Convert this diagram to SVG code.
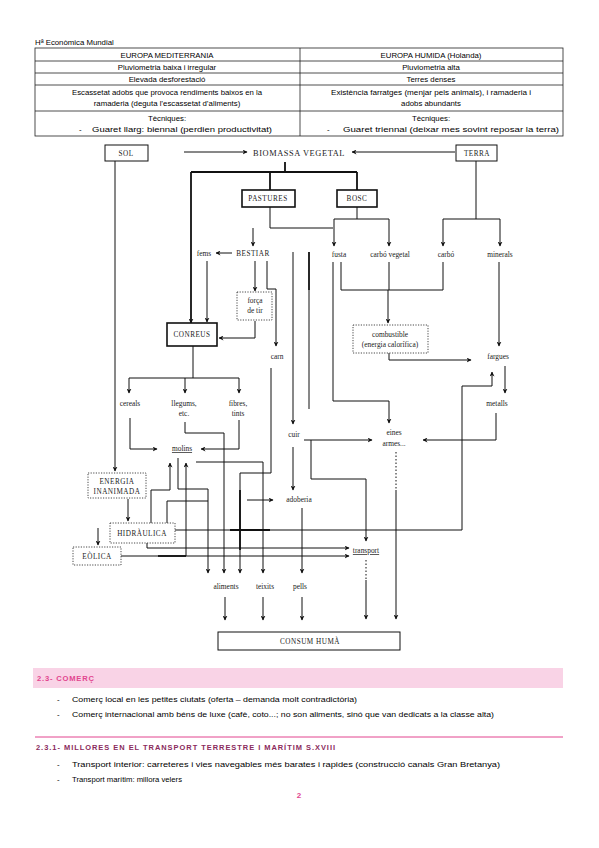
<svg xmlns="http://www.w3.org/2000/svg" width="599" height="848" viewBox="0 0 599 848">
<defs>
<marker id="ah" viewBox="0 0 10 10" refX="9" refY="5" markerWidth="5" markerHeight="5" orient="auto-start-reverse" markerUnits="userSpaceOnUse">
<path d="M0 0 L10 5 L0 10 L3 5 Z" fill="#111"/>
</marker>
</defs>
<style>
.t{font-family:"Liberation Sans",Arial,sans-serif;font-size:7.8px;fill:#000}
.tc{font-family:"Liberation Sans",Arial,sans-serif;font-size:7.8px;fill:#000;text-anchor:middle}
.d{font-family:"Liberation Serif","Times New Roman",serif;font-size:7.4px;fill:#222;text-anchor:middle}
.du{font-family:"Liberation Serif","Times New Roman",serif;font-size:7.2px;fill:#222;text-anchor:middle;letter-spacing:0.5px}
.tl{stroke:#222;stroke-width:0.8;fill:none}
.c path{stroke:#111;stroke-width:1;fill:none}
.c .a{marker-end:url(#ah)}
.c .k{stroke-width:1.8}
.bx{fill:#fff;stroke:#111;stroke-width:1.6}
.bs{fill:#fff;stroke:#111;stroke-width:1}
.dot{fill:#fff;stroke:#333;stroke-width:0.9;stroke-dasharray:1.2 1.4}
.pk{font-family:"Liberation Sans",Arial,sans-serif;font-size:7.6px;font-weight:bold;fill:#e2458f;letter-spacing:0.8px}
.pk2{font-family:"Liberation Sans",Arial,sans-serif;font-size:7.6px;font-weight:bold;fill:#8a2a5c;letter-spacing:1px}
</style>
<rect width="599" height="848" fill="#fff"/>
<g id="header">
<text class="t" x="35" y="45">Hª Econòmica Mundial</text>
<rect class="tl" x="35" y="48" width="528" height="88"/>
<path class="tl" d="M35 61H563M35 73H563M35 85H563M35 111H563M300 48V136"/>
<text class="tc" x="167" y="58">EUROPA MEDITERRANIA</text>
<text class="tc" x="431" y="58">EUROPA HUMIDA (Holanda)</text>
<text class="tc" x="167" y="70">Pluviometria baixa i irregular</text>
<text class="tc" x="431" y="70">Pluviometria alta</text>
<text class="tc" x="167" y="82">Elevada desforestació</text>
<text class="tc" x="431" y="82">Terres denses</text>
<text class="tc" x="167" y="95" textLength="190" lengthAdjust="spacingAndGlyphs">Escassetat adobs que provoca rendiments baixos en la</text>
<text class="tc" x="167" y="106">ramaderia (deguta l’escassetat d’aliments)</text>
<text class="tc" x="431" y="95" textLength="200" lengthAdjust="spacingAndGlyphs">Existència farratges (menjar pels animals), i ramaderia i</text>
<text class="tc" x="431" y="106">adobs abundants</text>
<text class="tc" x="167" y="121">Tècniques:</text>
<text class="tc" x="431" y="121">Tècniques:</text>
<text class="t" x="79" y="132">-</text>
<text class="t" x="92" y="132" textLength="180" lengthAdjust="spacingAndGlyphs">Guaret llarg: biennal (perdien productivitat)</text>
<text class="t" x="327" y="132">-</text>
<text class="t" x="343" y="132" textLength="216" lengthAdjust="spacingAndGlyphs">Guaret triennal (deixar mes sovint reposar la terra)</text>
</g>
<g id="connectors" class="c">
<path class="a" d="M184 152H247"/>
<path class="a" d="M455 152H352"/>
<path class="k" d="M285 162V172M191 172H357M270 172V190M357 172V190"/>
<path class="a k" d="M191 172V323"/>
<path d="M270 207V228H333"/>
<path class="a" d="M253 228V246"/>
<path d="M357 207V219M334 219H389"/>
<path class="a" d="M334 219V246"/>
<path class="a" d="M389 219V246"/>
<path d="M476 160V219M443 219H500"/>
<path class="a" d="M443 219V246"/>
<path class="a" d="M500 219V246"/>
<path class="a" d="M232 253H216"/>
<path class="a" d="M207 261V322"/>
<path class="a" d="M255 261V291"/>
<path class="a" d="M255 321V338H219"/>
<path class="a" d="M267 261V289H276V346"/>
<path class="a" d="M293 252V424"/>
<path class="k" d="M309 252V290"/>
<path d="M309 290V409"/>
<path class="a" d="M333 262V401H389V423"/>
<path d="M341 262V290H443M389 262V290M443 262V290"/>
<path class="a" d="M388 290V323"/>
<path class="a" d="M389 353V360H471"/>
<path class="a" d="M499 262V346"/>
<path class="a" d="M505 366V393"/>
<path class="a" d="M175 530H462V386H492V372"/>
<path class="k" d="M230 530H270"/>
<path class="a" d="M496 413V440H423"/>
<path d="M193 346V378M129 378H239"/>
<path class="a" d="M129 378V393"/>
<path class="a" d="M185 378V393"/>
<path class="a" d="M239 378V393"/>
<path class="a" d="M130 418V449H157"/>
<path class="a" d="M239 420V449H201"/>
<path class="a" d="M185 422V433H224V573"/>
<path class="a" d="M271 368V473H240V573"/>
<path class="k" d="M240 490V550"/>
<path class="a" d="M178 458V489H208V573"/>
<path class="a" d="M196 462H263V573"/>
<path class="a" d="M304 440H372"/>
<path class="a" d="M311 440V479H366V541"/>
<path class="a" d="M293 447V490"/>
<path class="a" d="M247 500H273"/>
<path class="a" d="M302 508V573"/>
<path class="a" d="M115 161V471"/>
<path class="a" d="M128 499V521"/>
<path class="a" d="M98 528V545"/>
<path class="a" d="M151 523V490H170V463"/>
<path class="a" d="M121 556H186V463"/>
<path class="k" d="M158 556H186"/>
<path class="a" d="M186 556H349"/>
<path class="a" d="M147 543V548H349"/>
<path d="M167 523V501H208"/>
<path stroke-dasharray="1.5 2" d="M396 452V490"/>
<path class="a" d="M396 490V619"/>
<path stroke-dasharray="1.5 2" d="M366 560V580"/>
<path class="a" d="M366 580V619"/>
<path class="a" d="M225 597V620"/>
<path class="a" d="M263 597V620"/>
<path class="a" d="M302 597V620"/>
</g>
<g id="sol"><rect class="bs" x="105" y="145" width="43" height="16"/><text class="du" x="126" y="156">SOL</text></g>
<g id="biomassa"><text class="du" x="299" y="156" textLength="92" lengthAdjust="spacingAndGlyphs">BIOMASSA VEGETAL</text></g>
<g id="terra"><rect class="bs" x="456" y="145" width="41" height="16"/><text class="du" x="477" y="156">TERRA</text></g>
<g id="pastures"><rect class="bx" x="242" y="190" width="53" height="17"/><text class="du" x="268" y="201">PASTURES</text></g>
<g id="bosc"><rect class="bx" x="337" y="190" width="40" height="17"/><text class="du" x="357" y="201">BOSC</text></g>
<g id="fems"><text class="d" x="204" y="256">fems</text></g>
<g id="bestiar"><text class="du" x="253" y="256">BESTIAR</text></g>
<g id="fusta"><text class="d" x="339" y="257">fusta</text></g>
<g id="carbo-vegetal"><text class="d" x="390" y="257">carbó vegetal</text></g>
<g id="carbo"><text class="d" x="446" y="257">carbó</text></g>
<g id="minerals"><text class="d" x="500" y="257">minerals</text></g>
<g id="forca"><rect class="dot" x="237" y="292" width="35" height="28"/><text class="d" x="255" y="303">força</text><text class="d" x="255" y="313">de tir</text></g>
<g id="conreus"><rect class="bx" x="167" y="323" width="50" height="23"/><text class="du" x="192" y="337">CONREUS</text></g>
<g id="carn"><text class="d" x="277" y="359">carn</text></g>
<g id="combustible"><rect class="dot" x="353" y="325" width="75" height="28"/><text class="d" x="390" y="337">combustible</text><text class="d" x="390" y="347">(energia calorífica)</text></g>
<g id="fargues"><text class="d" x="498" y="359">fargues</text></g>
<g id="metalls"><text class="d" x="497" y="406">metalls</text></g>
<g id="cereals"><text class="d" x="130" y="406">cereals</text></g>
<g id="llegums"><text class="d" x="184" y="406">llegums,</text><text class="d" x="184" y="416">etc.</text></g>
<g id="fibres"><text class="d" x="238" y="406">fibres,</text><text class="d" x="238" y="416">tints</text></g>
<g id="cuir"><text class="d" x="294" y="437">cuir</text></g>
<g id="eines"><text class="d" x="394" y="435">eines</text><text class="d" x="394" y="446">armes...</text></g>
<g id="molins"><text class="d" x="182" y="451" text-decoration="underline">molins</text></g>
<g id="energia"><rect class="dot" x="88" y="473" width="58" height="25"/><text class="du" x="117" y="484">ENERGIA</text><text class="du" x="117" y="494">INANIMADA</text></g>
<g id="adoberia"><text class="d" x="299" y="502">adoberia</text></g>
<g id="hidraulica"><rect class="dot" x="110" y="523" width="65" height="20"/><text class="du" x="142" y="536">HIDRÀULICA</text></g>
<g id="eolica"><rect class="dot" x="73" y="547" width="48" height="18"/><text class="du" x="97" y="559">EÒLICA</text></g>
<g id="transport"><text class="d" x="366" y="553" text-decoration="underline">transport</text></g>
<g id="aliments"><text class="d" x="226" y="589">aliments</text></g>
<g id="teixits"><text class="d" x="265" y="589">teixits</text></g>
<g id="pells"><text class="d" x="300" y="589">pells</text></g>
<g id="consum"><rect class="bs" x="218" y="632" width="182" height="18"/><text class="du" x="310" y="644">CONSUM HUMÀ</text></g>
<g id="text-bottom">
<rect x="33" y="668" width="530" height="20" fill="#f9d3e6"/>
<text class="pk" x="37" y="681">2.3- COMERÇ</text>
<text class="t" x="57" y="702">-</text>
<text class="t" x="72" y="702" textLength="285" lengthAdjust="spacingAndGlyphs">Comerç local en les petites ciutats (oferta – demanda molt contradictòria)</text>
<text class="t" x="57" y="717">-</text>
<text class="t" x="72" y="717" textLength="422" lengthAdjust="spacingAndGlyphs">Comerç internacional amb béns de luxe (cafè, coto...; no son aliments, sinó que van dedicats a la classe alta)</text>
<path d="M35 737H563" stroke="#e2458f" stroke-width="1"/>
<text class="pk2" x="36" y="750" textLength="300" lengthAdjust="spacingAndGlyphs">2.3.1- MILLORES EN EL TRANSPORT TERRESTRE I MARÍTIM S.XVIII</text>
<text class="t" x="57" y="767">-</text>
<text class="t" x="72" y="767" textLength="428" lengthAdjust="spacingAndGlyphs">Transport interior: carreteres i vies navegables més barates i rapides (construcció canals Gran Bretanya)</text>
<text class="t" x="57" y="782">-</text>
<text class="t" x="72" y="782" textLength="110" lengthAdjust="spacingAndGlyphs">Transport marítim: millora velers</text>
<text x="299" y="798" text-anchor="middle" style="font-family:'Liberation Sans',Arial,sans-serif;font-size:8px;font-weight:bold;fill:#e2458f">2</text>
</g>
</svg>
